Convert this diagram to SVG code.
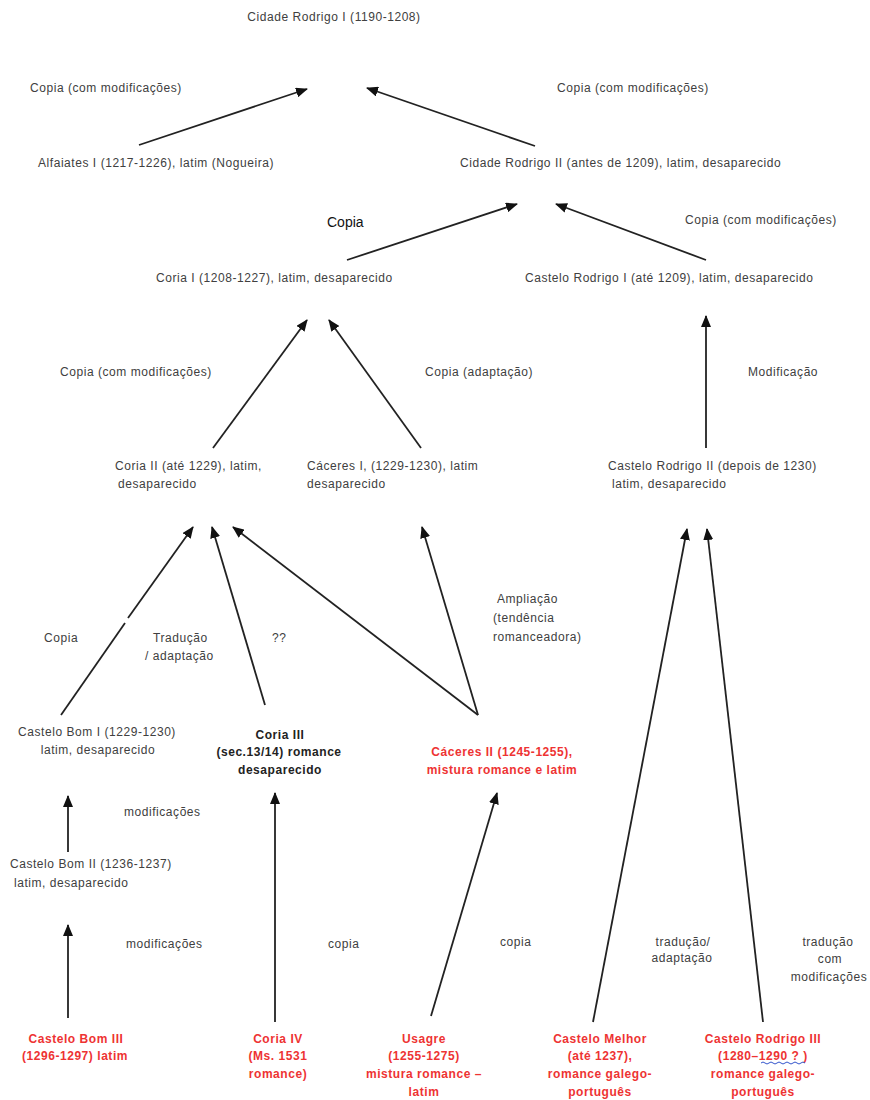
<svg xmlns="http://www.w3.org/2000/svg" width="870" height="1100" viewBox="0 0 870 1100">
<style>
.t{font-family:"Liberation Sans",Arial,sans-serif;font-size:12px;letter-spacing:0.55px;fill:#404040}
.c{text-anchor:middle}
.r{font-family:"Liberation Sans",Arial,sans-serif;font-size:12px;letter-spacing:0.55px;font-weight:bold;fill:#ee3333;text-anchor:middle}
.b{font-family:"Liberation Sans",Arial,sans-serif;font-size:12px;letter-spacing:0.55px;font-weight:bold;fill:#222;text-anchor:middle}
.big{font-family:"Liberation Sans",Arial,sans-serif;font-size:14px;fill:#111}
.e{stroke:#222;stroke-width:1.8;fill:none;marker-end:url(#ah)}
.n{stroke:#222;stroke-width:1.8;fill:none}
</style>
<defs>
<marker id="ah" viewBox="0 0 12 10" refX="11" refY="5" markerWidth="12" markerHeight="10" markerUnits="userSpaceOnUse" orient="auto">
<path d="M0,0 L12,5 L0,10 z" fill="#111"/>
</marker>
</defs>
<rect width="870" height="1100" fill="#fff"/>

<g id="connectors">
<line class="e" x1="139" y1="145" x2="307" y2="89"/>
<line class="e" x1="535" y1="146" x2="367" y2="88"/>
<line class="e" x1="347" y1="260" x2="517" y2="204"/>
<line class="e" x1="706" y1="260" x2="556" y2="204"/>
<line class="e" x1="706" y1="448" x2="706" y2="316"/>
<line class="e" x1="213" y1="448" x2="307" y2="320"/>
<line class="e" x1="421" y1="448" x2="329" y2="320"/>
<line class="n" x1="61" y1="715" x2="125" y2="623"/>
<line class="e" x1="128" y1="618" x2="193" y2="527"/>
<line class="e" x1="265" y1="705" x2="212" y2="527"/>
<line class="e" x1="478" y1="715" x2="233" y2="527"/>
<line class="e" x1="478" y1="715" x2="422" y2="527"/>
<line class="e" x1="593" y1="1022" x2="687" y2="529"/>
<line class="e" x1="763" y1="1022" x2="707" y2="529"/>
<line class="e" x1="68" y1="852" x2="68" y2="796"/>
<line class="e" x1="68" y1="1018" x2="68" y2="925"/>
<line class="e" x1="275" y1="1022" x2="275" y2="793"/>
<line class="e" x1="431" y1="1016" x2="497" y2="793"/>
</g>

<g id="edge-labels">
<text class="t" x="30" y="92">Copia (com modificações)</text>
<text class="t" x="557" y="92">Copia (com modificações)</text>
<text class="big" x="327" y="227">Copia</text>
<text class="t" x="685" y="224">Copia (com modificações)</text>
<text class="t" x="60" y="376">Copia (com modificações)</text>
<text class="t" x="425" y="376">Copia (adaptação)</text>
<text class="t" x="748" y="376">Modificação</text>
<text class="t" x="497" y="603">Ampliação</text>
<text class="t" x="493" y="622">(tendência</text>
<text class="t" x="493" y="641">romanceadora)</text>
<text class="t" x="44" y="642">Copia</text>
<text class="t" x="153" y="642">Tradução</text>
<text class="t" x="145" y="660">/ adaptação</text>
<text class="t" x="272" y="642">??</text>
<text class="t" x="124" y="816">modificações</text>
<text class="t" x="126" y="948">modificações</text>
<text class="t" x="328" y="948">copia</text>
<text class="t" x="500" y="946">copia</text>
<text class="t c" x="683" y="946">tradução/</text>
<text class="t c" x="682" y="962">adaptação</text>
<text class="t c" x="828" y="946">tradução</text>
<text class="t c" x="830" y="963">com</text>
<text class="t c" x="829" y="981">modificações</text>
</g>

<g id="cidade-rodrigo-1"><text class="t c" x="334" y="21">Cidade Rodrigo I (1190-1208)</text></g>
<g id="alfaiates-1"><text class="t" x="38" y="167">Alfaiates I (1217-1226), latim (Nogueira)</text></g>
<g id="cidade-rodrigo-2"><text class="t" x="460" y="167">Cidade Rodrigo II (antes de 1209), latim, desaparecido</text></g>
<g id="coria-1"><text class="t" x="156" y="282">Coria I (1208-1227), latim, desaparecido</text></g>
<g id="castelo-rodrigo-1"><text class="t" x="525" y="282">Castelo Rodrigo I (até 1209), latim, desaparecido</text></g>
<g id="coria-2"><text class="t" x="115" y="470">Coria II (até 1229), latim,</text><text class="t" x="118" y="488">desaparecido</text></g>
<g id="caceres-1"><text class="t" x="307" y="470">Cáceres I, (1229-1230), latim</text><text class="t" x="307" y="488">desaparecido</text></g>
<g id="castelo-rodrigo-2"><text class="t" x="608" y="470">Castelo Rodrigo II (depois de 1230)</text><text class="t" x="612" y="488">latim, desaparecido</text></g>
<g id="castelo-bom-1"><text class="t c" x="97" y="736">Castelo Bom I (1229-1230)</text><text class="t c" x="98" y="754">latim, desaparecido</text></g>
<g id="coria-3"><text class="b" x="280" y="739">Coria III</text><text class="b" x="279" y="756">(sec.13/14) romance</text><text class="b" x="280" y="774">desaparecido</text></g>
<g id="caceres-2"><text class="r" x="502" y="756">Cáceres II (1245-1255),</text><text class="r" x="502" y="774">mistura romance e latim</text></g>
<g id="castelo-bom-2"><text class="t" x="10" y="868">Castelo Bom II (1236-1237)</text><text class="t" x="14" y="887">latim, desaparecido</text></g>
<g id="castelo-bom-3"><text class="r" x="76" y="1043">Castelo Bom III</text><text class="r" x="75" y="1060">(1296-1297) latim</text></g>
<g id="coria-4"><text class="r" x="278" y="1043">Coria IV</text><text class="r" x="278" y="1060">(Ms. 1531</text><text class="r" x="278" y="1078">romance)</text></g>
<g id="usagre"><text class="r" x="424" y="1043">Usagre</text><text class="r" x="424" y="1060">(1255-1275)</text><text class="r" x="424" y="1078">mistura romance –</text><text class="r" x="424" y="1096">latim</text></g>
<g id="castelo-melhor"><text class="r" x="600" y="1043">Castelo Melhor</text><text class="r" x="600" y="1060">(até 1237),</text><text class="r" x="600" y="1078">romance galego-</text><text class="r" x="600" y="1096">português</text></g>
<g id="castelo-rodrigo-3"><text class="r" x="763" y="1043">Castelo Rodrigo III</text><text class="r" x="763" y="1060">(1280–1290 ? )</text><text class="r" x="763" y="1078">romance galego-</text><text class="r" x="763" y="1096">português</text>
<path d="M761,1063 q2,-2 4,0 t4,0 t4,0 t4,0 t4,0 t4,0 t4,0 t4,0 t4,0 t4,0 t4,0" stroke="#3355cc" stroke-width="1" fill="none"/></g>
</svg>
